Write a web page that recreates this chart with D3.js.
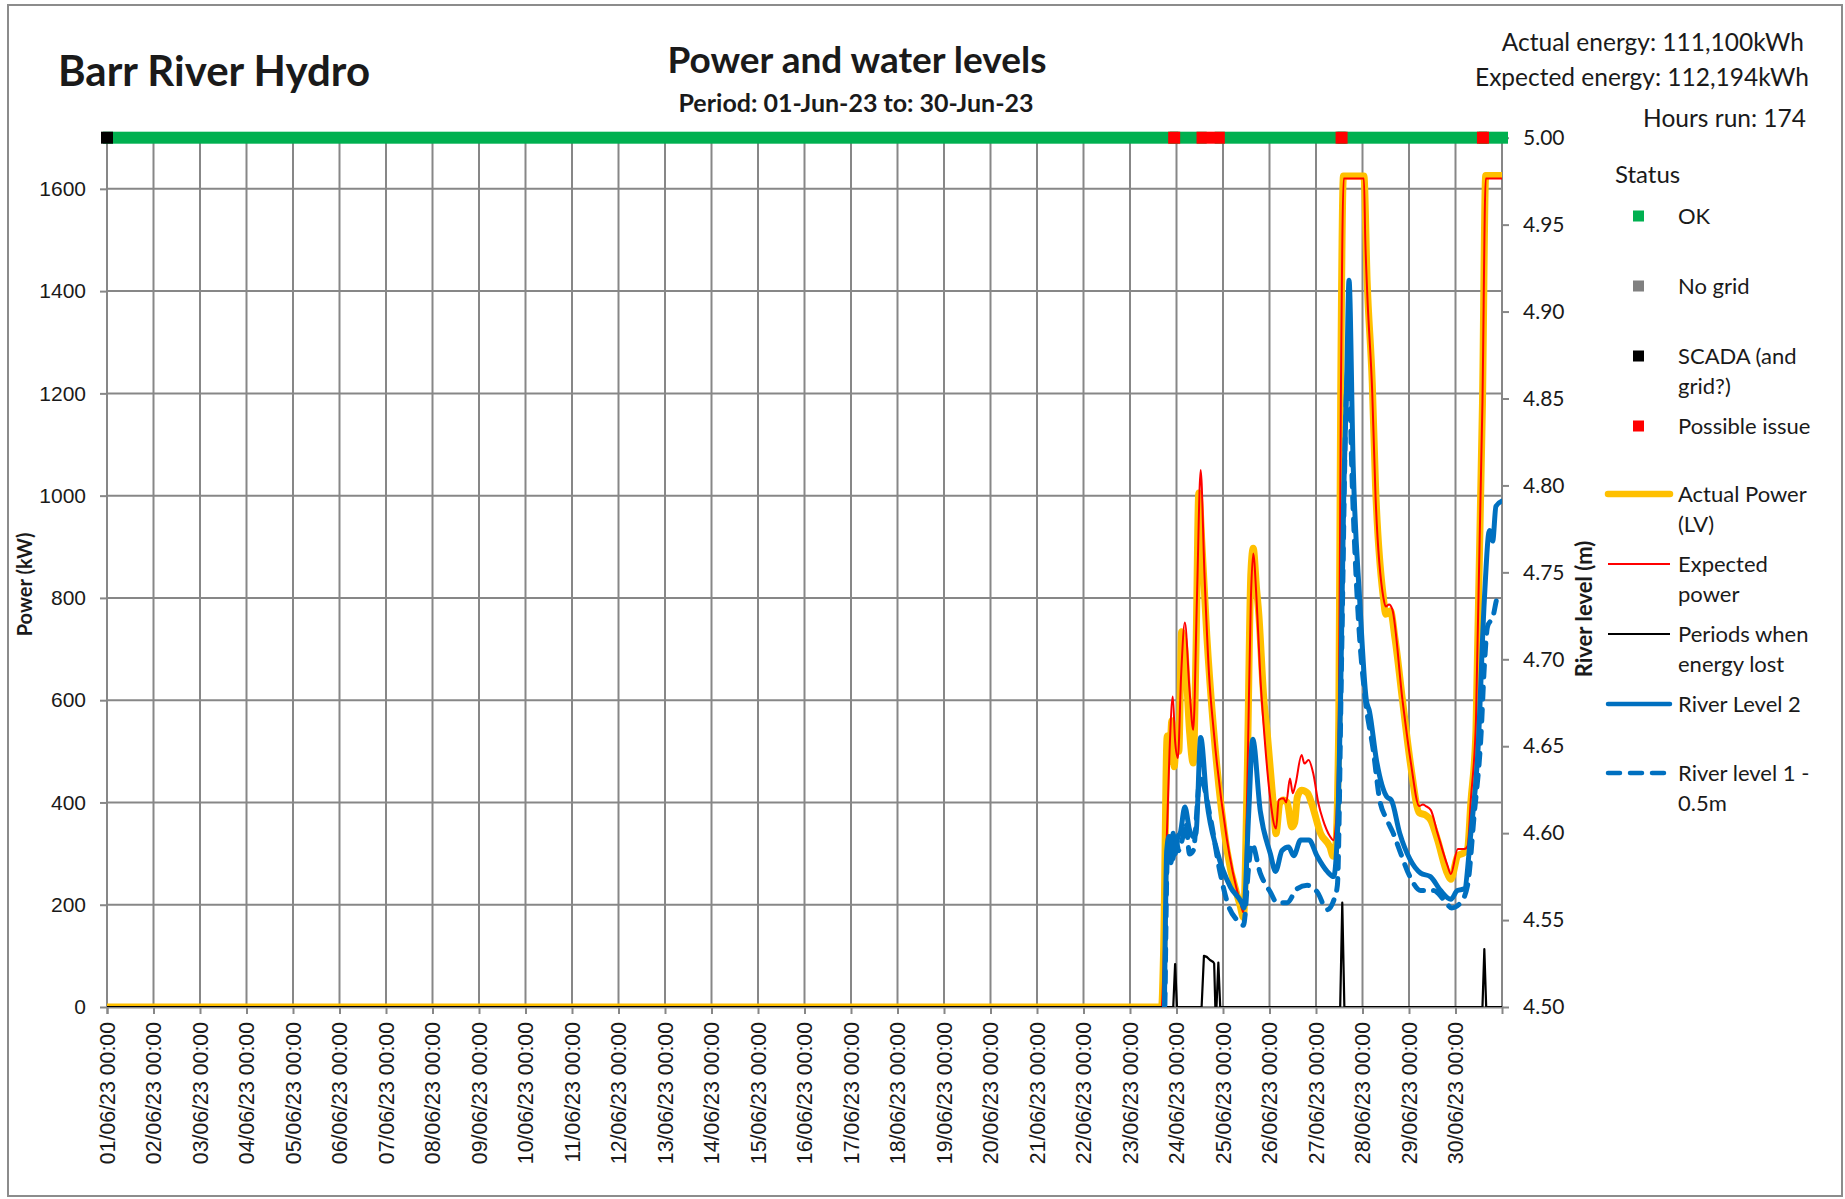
<!DOCTYPE html>
<html>
<head>
<meta charset="utf-8">
<script src="https://cdn.jsdelivr.net/npm/d3@7"></script>
<style>
  body { margin: 0; background: #fff; }
  svg { display: block; }
</style>
</head>
<body>
<script>
// Days are day-of-month with fraction (1 = 01/06/23 00:00, 31 = 01/07/23 00:00)

// Actual power (LV), kW
const actualDays = [1.0, 23.68, 23.72, 23.80, 23.85, 23.90, 23.95, 24.00, 24.05, 24.11, 24.18, 24.28, 24.36, 24.42, 24.48, 24.55, 24.65, 24.80, 25.08, 25.37, 25.44, 25.52, 25.60, 25.65, 25.72, 25.77, 25.88, 25.95, 26.09, 26.14, 26.22, 26.30, 26.38, 26.48, 26.54, 26.60, 26.69, 26.82, 26.90, 27.10, 27.30, 27.37, 27.42, 27.49, 27.53, 27.59, 28.03, 28.10, 28.21, 28.28, 28.45, 28.50, 28.60, 28.70, 28.86, 29.04, 29.22, 29.36, 29.47, 29.61, 29.83, 29.90, 30.05, 30.19, 30.26, 30.33, 30.44, 30.58, 30.65, 31.0];
const actualKW = [0, 0, 100, 530, 480, 560, 470, 520, 500, 734, 700, 540, 477, 700, 1005, 900, 729, 540, 309, 198, 175, 450, 850, 897, 820, 768, 600, 537, 387, 339, 398, 405, 400, 352, 360, 411, 424, 418, 400, 339, 313, 295, 310, 560, 1180, 1625, 1625, 1420, 1220, 1020, 800, 768, 775, 720, 600, 470, 380, 375, 365, 328, 260, 250, 296, 302, 310, 400, 540, 1180, 1626, 1626];

// Expected power, kW
const expectedDays = [1.0, 23.68, 23.72, 23.78, 23.85, 23.92, 23.97, 24.03, 24.10, 24.18, 24.28, 24.36, 24.44, 24.52, 24.60, 24.70, 24.80, 25.08, 25.37, 25.44, 25.52, 25.60, 25.65, 25.72, 25.80, 25.90, 26.00, 26.14, 26.20, 26.30, 26.36, 26.44, 26.50, 26.56, 26.69, 26.75, 26.84, 26.94, 27.05, 27.15, 27.30, 27.37, 27.43, 27.49, 27.535, 27.595, 28.03, 28.06, 28.10, 28.21, 28.28, 28.45, 28.50, 28.57, 28.64, 28.86, 29.04, 29.22, 29.30, 29.36, 29.47, 29.61, 29.83, 29.90, 30.05, 30.19, 30.26, 30.33, 30.44, 30.58, 30.65, 31.0];
const expectedKW = [0, 0, 80, 300, 500, 607, 520, 487, 650, 752, 620, 542, 800, 1050, 850, 650, 540, 330, 205, 185, 420, 800, 887, 800, 650, 520, 420, 349, 405, 408, 400, 447, 418, 436, 493, 476, 483, 457, 399, 366, 334, 326, 360, 570, 1190, 1620, 1620, 1500, 1400, 1200, 1000, 800, 783, 787, 778, 600, 478, 393, 396, 393, 385, 341, 276, 260, 309, 309, 315, 406, 560, 1184, 1620, 1620];

// Periods when energy lost, kW
const lostDays = [1.0, 23.93, 23.97, 24.01, 24.54, 24.59, 24.65, 24.72, 24.79, 24.81, 24.835, 24.86, 24.90, 24.94, 27.52, 27.565, 27.61, 30.58, 30.62, 30.66, 31.0];
const lostKW = [0, 0, 84, 0, 0, 100, 98, 92, 88, 85, 0, 0, 87, 0, 0, 204, 0, 0, 113, 0, 0];

// River Level 2, m
const level2Days = [23.70, 23.74, 23.79, 23.84, 23.88, 23.93, 23.97, 24.03, 24.08, 24.18, 24.28, 24.36, 24.42, 24.52, 24.65, 24.87, 25.16, 25.40, 25.45, 25.55, 25.64, 25.80, 26.02, 26.13, 26.27, 26.41, 26.52, 26.67, 26.85, 27.02, 27.24, 27.38, 27.46, 27.53, 27.60, 27.66, 27.71, 27.80, 27.94, 28.08, 28.15, 28.30, 28.52, 28.62, 28.80, 29.02, 29.25, 29.46, 29.68, 29.90, 30.04, 30.19, 30.33, 30.48, 30.62, 30.73, 30.80, 30.87, 31.0];
const level2M = [4.40, 4.50, 4.590, 4.598, 4.583, 4.600, 4.588, 4.598, 4.600, 4.615, 4.602, 4.598, 4.600, 4.655, 4.619, 4.590, 4.569, 4.560, 4.557, 4.610, 4.654, 4.613, 4.588, 4.578, 4.590, 4.592, 4.587, 4.596, 4.596, 4.587, 4.578, 4.575, 4.600, 4.680, 4.800, 4.860, 4.918, 4.811, 4.734, 4.677, 4.670, 4.642, 4.621, 4.619, 4.600, 4.585, 4.577, 4.575, 4.567, 4.562, 4.567, 4.568, 4.600, 4.646, 4.734, 4.774, 4.768, 4.788, 4.791];

// River level 1 - 0.5m, m
const level1Days = [23.70, 23.75, 23.80, 23.86, 23.92, 23.98, 24.05, 24.12, 24.20, 24.28, 24.36, 24.51, 24.72, 24.94, 25.12, 25.30, 25.44, 25.55, 25.62, 25.80, 26.02, 26.16, 26.38, 26.59, 26.81, 27.03, 27.24, 27.39, 27.46, 27.55, 27.65, 27.70, 27.78, 27.91, 28.06, 28.23, 28.37, 28.52, 28.66, 28.80, 29.02, 29.25, 29.53, 29.74, 29.92, 30.11, 30.26, 30.40, 30.55, 30.62, 30.69, 30.80, 30.91, 31.0];
const level1M = [4.40, 4.50, 4.585, 4.600, 4.585, 4.597, 4.590, 4.596, 4.606, 4.588, 4.590, 4.632, 4.610, 4.577, 4.558, 4.550, 4.547, 4.580, 4.594, 4.577, 4.566, 4.560, 4.560, 4.568, 4.570, 4.566, 4.556, 4.562, 4.570, 4.700, 4.850, 4.870, 4.800, 4.724, 4.677, 4.648, 4.619, 4.608, 4.600, 4.590, 4.575, 4.567, 4.567, 4.562, 4.557, 4.560, 4.570, 4.610, 4.657, 4.696, 4.719, 4.724, 4.736, 4.737];

// Status runs along the top of the plot
const statusFrom = [1.0, 1.04, 23.95, 23.99, 24.56, 24.95, 27.55, 27.59, 30.59, 30.63];
const statusTo   = [1.0, 23.91, 23.95, 24.52, 24.91, 27.51, 27.55, 30.55, 30.59, 31.0];
const statusCode = ["SCADA", "OK", "Issue", "OK", "Issue", "OK", "Issue", "OK", "Issue", "OK"];

const statusNames = ["OK", "No grid", "SCADA (and|grid?)", "Possible issue"];
const statusKeys = ["OK", "NoGrid", "SCADA", "Issue"];
const statusColors = {OK: "#00b050", NoGrid: "#808080", SCADA: "#000000", Issue: "#ff0000"};

const powerTicks = [0, 200, 400, 600, 800, 1000, 1200, 1400, 1600];
const levelTicks = [4.50, 4.55, 4.60, 4.65, 4.70, 4.75, 4.80, 4.85, 4.90, 4.95, 5.00];

const width = 1845, height = 1199;
const plot = {left: 107, right: 1502, top: 137.7, bottom: 1007};
const textFont = "Lato, 'Open Sans', sans-serif";
const numFont = "'Liberation Sans', Arial, sans-serif";
const ink = "#1a1a1a";
const gridColor = "#878787";

const toDate = d => new Date(Date.UTC(2023, 5, 1) + (d - 1) * 864e5);

const x = d3.scaleUtc([toDate(1), toDate(31)], [plot.left, plot.right]);
const yP = d3.scaleLinear([0, 1700], [plot.bottom, plot.top]);
const yL = d3.scaleLinear([4.5, 5.0], [plot.bottom, plot.top]);

const svg = d3.select("body").append("svg")
  .attr("width", width)
  .attr("height", height)
  .attr("viewBox", `0 0 ${width} ${height}`);

svg.append("rect")
  .attr("x", 8).attr("y", 5)
  .attr("width", 1834).attr("height", 1191)
  .attr("fill", "#fff")
  .attr("stroke", "#8c8c8c")
  .attr("stroke-width", 2);

svg.append("defs").append("clipPath")
  .attr("id", "plotClip")
  .append("rect")
  .attr("x", plot.left).attr("y", plot.top)
  .attr("width", plot.right - plot.left)
  .attr("height", plot.bottom - plot.top);

// Grid
const days = d3.utcDays(toDate(1), toDate(31));
const grid = svg.append("g").attr("stroke", gridColor).attr("stroke-width", 2);
grid.selectAll(".v")
  .data(days.concat([toDate(31)]))
  .join("line")
  .attr("x1", d => x(d)).attr("x2", d => x(d))
  .attr("y1", plot.top).attr("y2", plot.bottom);
grid.selectAll(".h")
  .data(powerTicks.concat([1700]))
  .join("line")
  .attr("x1", plot.left).attr("x2", plot.right)
  .attr("y1", d => yP(d)).attr("y2", d => yP(d));

// Axes
svg.append("g")
  .attr("transform", `translate(${plot.left},0)`)
  .call(d3.axisLeft(yP).tickValues(powerTicks).tickFormat(d3.format("d")).tickSize(7).tickPadding(14))
  .call(g => g.select(".domain").remove())
  .call(g => g.selectAll(".tick line").attr("stroke", gridColor).attr("stroke-width", 2))
  .call(g => g.selectAll(".tick text")
    .attr("font-family", numFont).attr("font-size", 21).attr("fill", ink));

svg.append("g")
  .attr("transform", `translate(${plot.right},0)`)
  .call(d3.axisRight(yL).tickValues(levelTicks).tickFormat(d3.format(".2f")).tickSize(7).tickPadding(14))
  .call(g => g.select(".domain").remove())
  .call(g => g.selectAll(".tick line").attr("stroke", gridColor).attr("stroke-width", 2))
  .call(g => g.selectAll(".tick text")
    .attr("font-family", textFont).attr("font-size", 21).attr("fill", ink));

svg.append("g")
  .attr("transform", `translate(0,${plot.bottom})`)
  .call(d3.axisBottom(x).tickValues(days).tickFormat(d3.utcFormat("%d/%m/%y %H:%M")).tickSize(7))
  .call(g => g.select(".domain").attr("stroke", gridColor).attr("stroke-width", 2))
  .call(g => g.selectAll(".tick line").attr("stroke", gridColor).attr("stroke-width", 2))
  .call(g => g.selectAll(".tick text")
    .attr("transform", "rotate(-90)")
    .attr("text-anchor", "end")
    .attr("x", -15).attr("y", 0).attr("dy", "0.35em")
    .attr("font-family", numFont).attr("font-size", 21.3).attr("fill", ink));

// Series
const series = svg.append("g").attr("clip-path", "url(#plotClip)").attr("fill", "none");

const lineP = (xs, ys, curve) => d3.line()
  .x((d, i) => x(toDate(xs[i])))
  .y((d, i) => yP(ys[i]))
  .curve(curve)(ys);
const lineL = (xs, ys) => d3.line()
  .x((d, i) => x(toDate(xs[i])))
  .y((d, i) => yL(ys[i]))
  .curve(d3.curveMonotoneX)(ys);

series.append("path")
  .attr("d", lineP(actualDays, actualKW, d3.curveMonotoneX))
  .attr("stroke", "#ffc000").attr("stroke-width", 7)
  .attr("stroke-linejoin", "round").attr("stroke-linecap", "round");

series.append("path")
  .attr("d", lineP(expectedDays, expectedKW, d3.curveMonotoneX))
  .attr("stroke", "#ff0000").attr("stroke-width", 2)
  .attr("stroke-linejoin", "round");

series.append("path")
  .attr("d", lineP(lostDays, lostKW, d3.curveLinear))
  .attr("stroke", "#000").attr("stroke-width", 2.2)
  .attr("stroke-linejoin", "round");

series.append("path")
  .attr("d", lineL(level2Days, level2M))
  .attr("stroke", "#0070c0").attr("stroke-width", 5)
  .attr("stroke-linejoin", "round").attr("stroke-linecap", "round");

series.append("path")
  .attr("d", lineL(level1Days, level1M))
  .attr("stroke", "#0070c0").attr("stroke-width", 5)
  .attr("stroke-dasharray", "12,10")
  .attr("stroke-linejoin", "round").attr("stroke-linecap", "round");

// Status bar: OK runs first, other states on top
const barY = yP(1700);
const statusOrder = d3.range(statusCode.length)
  .sort((a, b) => (statusCode[a] === "OK" ? 0 : 1) - (statusCode[b] === "OK" ? 0 : 1));
svg.append("g")
  .selectAll("rect")
  .data(statusOrder)
  .join("rect")
  .attr("x", i => x(toDate(statusFrom[i])) - 6)
  .attr("width", i => x(toDate(statusTo[i])) - x(toDate(statusFrom[i])) + 12)
  .attr("y", barY - 6)
  .attr("height", 12)
  .attr("fill", i => statusColors[statusCode[i]]);

// Axis titles
svg.append("text")
  .attr("transform", `translate(32,${(plot.top + plot.bottom) / 2 + 12}) rotate(-90)`)
  .attr("text-anchor", "middle")
  .attr("font-family", textFont).attr("font-weight", "bold").attr("font-size", 20)
  .attr("fill", ink)
  .text("Power (kW)");

svg.append("text")
  .attr("transform", `translate(1592,609) rotate(-90)`)
  .attr("text-anchor", "middle")
  .attr("font-family", textFont).attr("font-weight", "bold").attr("font-size", 22)
  .attr("fill", ink)
  .text("River level (m)");

// Titles
svg.append("text")
  .attr("x", 58).attr("y", 86)
  .attr("font-family", textFont).attr("font-weight", "bold").attr("font-size", 42)
  .attr("fill", ink)
  .text("Barr River Hydro");

svg.append("text")
  .attr("x", 857).attr("y", 73)
  .attr("text-anchor", "middle")
  .attr("font-family", textFont).attr("font-weight", "bold").attr("font-size", 37)
  .attr("fill", ink)
  .text("Power and water levels");

svg.append("text")
  .attr("x", 856).attr("y", 112)
  .attr("text-anchor", "middle")
  .attr("font-family", textFont).attr("font-weight", "bold").attr("font-size", 25)
  .attr("fill", ink)
  .text("Period: 01-Jun-23 to: 30-Jun-23");

const infoLines = ["Actual energy: 111,100kWh", "Expected energy: 112,194kWh", "Hours run: 174"];
const infoY = [51, 86, 127];
const infoX = [1804, 1809, 1806];
svg.append("g")
  .selectAll("text")
  .data(infoLines)
  .join("text")
  .attr("x", (d, i) => infoX[i]).attr("y", (d, i) => infoY[i])
  .attr("text-anchor", "end")
  .attr("font-family", textFont).attr("font-size", 24.5)
  .attr("fill", ink)
  .text(d => d);

// Legend
const legend = svg.append("g")
  .attr("font-family", textFont).attr("font-size", 22).attr("fill", ink);

legend.append("text")
  .attr("x", 1615).attr("y", 183)
  .attr("font-size", 24)
  .text("Status");

const statusY = [216, 286, 356, 426];
statusKeys.forEach((k, i) => {
  legend.append("rect")
    .attr("x", 1633).attr("y", statusY[i] - 5.5)
    .attr("width", 11).attr("height", 11)
    .attr("fill", statusColors[k]);
  const t = legend.append("text").attr("x", 1678).attr("y", statusY[i] + 8);
  statusNames[i].split("|").forEach((s, j) => {
    t.append("tspan").attr("x", 1678).attr("dy", j ? 30 : 0).text(s);
  });
});

const lineNames = ["Actual Power|(LV)", "Expected|power", "Periods when|energy lost", "River Level 2", "River level 1 -|0.5m"];
const lineColors = ["#ffc000", "#ff0000", "#000000", "#0070c0", "#0070c0"];
const lineWidths = [6.5, 2, 2, 4.5, 4.5];
const lineDash = [null, null, null, null, "12,10"];
const lineY = [494, 564, 634, 704, 773];
lineNames.forEach((name, i) => {
  legend.append("line")
    .attr("x1", 1608).attr("x2", 1670)
    .attr("y1", lineY[i]).attr("y2", lineY[i])
    .attr("stroke", lineColors[i])
    .attr("stroke-width", lineWidths[i])
    .attr("stroke-linecap", i === 0 || i >= 3 ? "round" : "butt")
    .attr("stroke-dasharray", lineDash[i]);
  const t = legend.append("text").attr("x", 1678).attr("y", lineY[i] + 8);
  name.split("|").forEach((s, j) => {
    t.append("tspan").attr("x", 1678).attr("dy", j ? 30 : 0).text(s);
  });
});
</script>
</body>
</html>
